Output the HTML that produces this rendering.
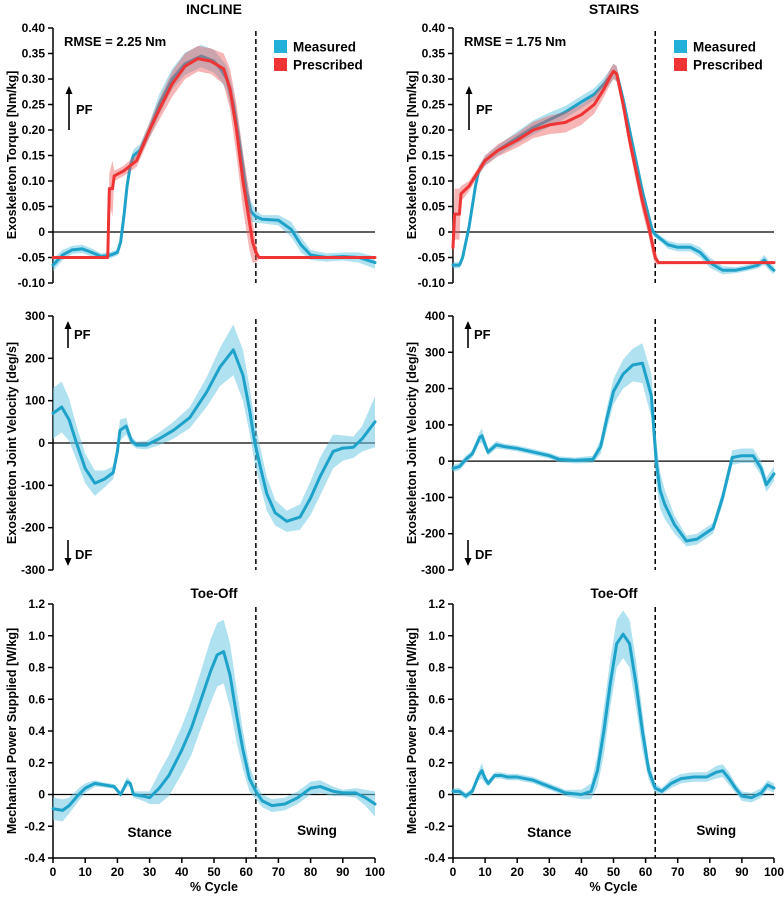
<!DOCTYPE html>
<html><head><meta charset="utf-8">
<style>
html,body{margin:0;padding:0;background:#fff;}
svg{display:block;font-family:"Liberation Sans",Arial,sans-serif;}
text{font-weight:bold;font-family:"Liberation Sans",Arial,sans-serif;}
</style></head>
<body>
<svg id="chart" width="784" height="897" viewBox="0 0 784 897" xmlns="http://www.w3.org/2000/svg"></svg>
<script>
// ---- data (pct, mean, sd) ----
const incTorqueMeasX=[0,3,6,9,12,15,18,20,21,22,23,24,25,27,30,33,37,41,46,50,52,54,56,58,60,61.5,63,65,70,74,77,80,85,90,95,100];
const incTorqueMeasY=[-0.065,-0.045,-0.035,-0.033,-0.04,-0.048,-0.045,-0.04,-0.02,0.03,0.09,0.13,0.15,0.16,0.2,0.25,0.3,0.33,0.345,0.335,0.32,0.3,0.25,0.17,0.08,0.04,0.03,0.025,0.023,0.005,-0.025,-0.045,-0.05,-0.048,-0.05,-0.06];
const incTorqueMeasSd=[0.012,0.01,0.008,0.008,0.008,0.006,0.006,0.006,0.01,0.015,0.015,0.012,0.012,0.012,0.015,0.02,0.02,0.022,0.022,0.022,0.022,0.025,0.028,0.03,0.03,0.02,0.012,0.008,0.01,0.015,0.015,0.01,0.008,0.008,0.01,0.012];
const incTorquePresX=[0,17,17.5,18.5,19,22,26,30,33,37,41,45,49,53,55,57,59,61,62,63,64,100];
const incTorquePresY=[-0.05,-0.05,0.085,0.085,0.11,0.12,0.14,0.2,0.24,0.29,0.325,0.34,0.335,0.32,0.28,0.2,0.1,0.02,-0.02,-0.04,-0.05,-0.05];
const incTorquePresSd=[0.002,0.002,0.03,0.055,0.01,0.01,0.012,0.015,0.02,0.025,0.025,0.025,0.025,0.03,0.04,0.05,0.055,0.055,0.04,0.02,0.003,0.002];

const staTorqueMeasX=[0,2,3,4,5,6,7,8,10,14,20,25,30,35,40,44,47,49,50,51,53,55,57,59,61,62,63,65,67,70,74,77,80,84,88,92,95,97,99,100];
const staTorqueMeasY=[-0.065,-0.065,-0.05,-0.02,0.01,0.05,0.09,0.12,0.14,0.16,0.185,0.205,0.22,0.235,0.255,0.27,0.29,0.305,0.315,0.31,0.26,0.2,0.14,0.08,0.03,0.005,-0.005,-0.015,-0.025,-0.03,-0.03,-0.04,-0.06,-0.075,-0.075,-0.07,-0.065,-0.055,-0.07,-0.075];
const staTorqueMeasSd=[0.006,0.006,0.006,0.006,0.006,0.006,0.008,0.01,0.01,0.01,0.012,0.014,0.014,0.012,0.012,0.012,0.012,0.014,0.015,0.015,0.014,0.012,0.012,0.012,0.01,0.008,0.006,0.006,0.008,0.008,0.008,0.01,0.01,0.008,0.006,0.006,0.006,0.01,0.008,0.008];
const staTorquePresX=[0,0.5,2,2.5,5,8,10,14,20,25,30,35,40,44,47,49,50,51,53,55,57,59,61,62,63,64,100];
const staTorquePresY=[-0.03,0.035,0.035,0.075,0.09,0.12,0.14,0.16,0.18,0.2,0.21,0.215,0.23,0.25,0.28,0.305,0.315,0.31,0.25,0.18,0.12,0.06,0.01,-0.02,-0.05,-0.06,-0.06];
const staTorquePresSd=[0.03,0.05,0.05,0.015,0.01,0.008,0.01,0.012,0.014,0.016,0.018,0.02,0.02,0.018,0.015,0.015,0.015,0.015,0.015,0.018,0.02,0.02,0.02,0.02,0.015,0.003,0.002];

const incVelX=[0,2.7,5,7.3,10,13,16,18.7,20,20.8,22.7,24.4,26,29,33,37.4,42.5,47.7,51.9,56,59,61,62.7,64.5,66.4,69,72.6,76.7,80,82.9,87,90,93.3,96,100];
const incVelY=[70,85,55,0,-60,-95,-85,-70,-20,30,40,5,-5,-5,10,30,60,120,180,220,160,80,0,-60,-120,-165,-185,-175,-130,-80,-20,-12,-10,10,50];
const incVelSd=[60,60,50,40,35,30,20,15,20,25,20,10,8,10,15,20,25,35,45,60,60,55,50,45,40,30,25,30,40,45,40,30,25,30,60];

const staVelX=[0,2,4,6,8.3,9,10.9,13.5,16,20,25,30,33,38,43.6,46,48,50,53,56,59,61.8,63.3,64.5,66,69,72.7,76,81,84,87,90,93.5,96,97.6,100];
const staVelY=[-20,-15,5,20,65,70,25,45,40,35,25,15,5,2,5,40,120,192,240,265,270,180,0,-80,-120,-175,-220,-215,-185,-100,10,15,15,-20,-65,-35];
const staVelSd=[10,10,10,10,15,20,10,10,8,8,8,8,8,8,10,20,30,35,40,45,55,60,60,50,40,25,15,15,15,20,20,20,20,20,20,20];

const incPowX=[0,3,5,8,10,13,16,19,21,23,24,25,28,30,33,36,40,43,46,49,51,53,55,57,59,61,63,65,68,72,76,80,83,87,90,94,97,100];
const incPowY=[-0.09,-0.1,-0.07,0,0.04,0.07,0.06,0.05,0.0,0.08,0.07,0,-0.01,-0.02,0.04,0.12,0.28,0.42,0.6,0.78,0.88,0.9,0.75,0.5,0.28,0.1,0.02,-0.04,-0.07,-0.06,-0.02,0.04,0.05,0.02,0.01,0.01,-0.02,-0.06];
const incPowSd=[0.07,0.07,0.05,0.04,0.03,0.02,0.015,0.015,0.015,0.03,0.02,0.02,0.03,0.04,0.1,0.13,0.15,0.17,0.18,0.2,0.2,0.2,0.2,0.17,0.12,0.08,0.05,0.04,0.04,0.04,0.04,0.04,0.04,0.03,0.02,0.03,0.05,0.08];

const staPowX=[0,2,4,6,8,9,10,11,13,15,17,20,25,30,35,40,43,45,47,49,51,53,55,57,59,61,63,65,68,71,75,79,82,84,86,88,90,93,96,98,100];
const staPowY=[0.02,0.02,-0.01,0.02,0.12,0.15,0.1,0.07,0.12,0.12,0.11,0.11,0.09,0.05,0.01,0,0.02,0.15,0.4,0.7,0.95,1.01,0.95,0.7,0.4,0.15,0.04,0.02,0.07,0.1,0.11,0.11,0.14,0.15,0.1,0.04,-0.01,-0.02,0.01,0.06,0.04];
const staPowSd=[0.02,0.02,0.02,0.02,0.03,0.05,0.03,0.02,0.02,0.02,0.02,0.02,0.02,0.02,0.02,0.03,0.05,0.1,0.15,0.15,0.15,0.15,0.15,0.15,0.12,0.06,0.03,0.02,0.03,0.03,0.03,0.03,0.04,0.04,0.04,0.03,0.03,0.03,0.03,0.03,0.03];

const torqueTicks=[0.40,0.35,0.30,0.25,0.20,0.15,0.10,0.05,0,-0.05,-0.10];
const torqueTickLabels=["0.40","0.35","0.30","0.25","0.20","0.15","0.10","0.05","0","-0.05","-0.10"];
const incVelTicks=[300,200,100,0,-100,-200,-300];
const staVelTicks=[400,300,200,100,0,-100,-200,-300];
const powTicks=[1.2,1.0,0.8,0.6,0.4,0.2,0,-0.2,-0.4];
const powTickLabels=["1.2","1.0","0.8","0.6","0.4","0.2","0","-0.2","-0.4"];
const xTicks=[0,10,20,30,40,50,60,70,80,90,100];
const toeOff=63;

const NS="http://www.w3.org/2000/svg";
const svg=document.getElementById('chart');
function el(tag,attrs,parent){const e=document.createElementNS(NS,tag);for(const k in attrs)e.setAttribute(k,attrs[k]);(parent||svg).appendChild(e);return e;}
function txt(s,attrs,parent){attrs['font-weight']='bold';const e=el('text',attrs,parent);e.textContent=s;return e;}

const BLUE="#1ea2c9",BLUEBAND="rgba(110,200,228,0.55)",RED="#ee3434",REDBAND="rgba(238,90,90,0.45)";

function panel(name,x0,x1,y0,y1,vmax,vmin,ticks,labels,ylabel,ylabelY){
  const g=el('g',{});
  
  
  const sx=p=>x0+(x1-x0)*p/100;
  const sy=v=>y0+(y1-y0)*(vmax-v)/(vmax-vmin);
  const ax=el('g',{},g);
  
  
  el('line',{x1:x0,y1:sy(vmax),x2:x0,y2:sy(vmin),stroke:'#000','stroke-width':1.5},ax);
  ticks.forEach((t,i)=>{
    el('line',{x1:x0-5,y1:sy(t),x2:x0,y2:sy(t),stroke:'#000','stroke-width':1.5},ax);
    const tl=txt(labels[i],{x:x0-8,y:sy(t)+4,'text-anchor':'end','font-size':12},ax);
    
    
  });
  const yl=txt(ylabel,{x:0,y:0,'text-anchor':'middle','font-size':12.5,transform:`translate(${x0-37},${ylabelY}) rotate(-90)`},g);
  
  
  const z=el('line',{x1:x0,y1:sy(0),x2:x1,y2:sy(0),stroke:'#000','stroke-width':1.3},g);
  
  
  const d=el('line',{x1:sx(toeOff),y1:sy(vmax)+3,x2:sx(toeOff),y2:sy(vmin),stroke:'#000','stroke-width':1.5,'stroke-dasharray':'5,3'},g);
  
  
  return {g,sx,sy};
}
function series(P,xs,ys,sd,line,band,name){
  let up=[],lo=[],m=[];
  xs.forEach((x,i)=>{up.push(P.sx(x)+','+P.sy(ys[i]+sd[i]));lo.push(P.sx(x)+','+P.sy(ys[i]-sd[i]));m.push(P.sx(x)+','+P.sy(ys[i]));});
  const b=el('polygon',{points:up.concat(lo.reverse()).join(' '),fill:band,stroke:'none'},P.g);
  
  
  const l=el('polyline',{points:m.join(' '),fill:'none',stroke:line,'stroke-width':3,'stroke-linejoin':'round','stroke-linecap':'round'},P.g);
  
  
}
function xaxis(P,x0,x1,y){
  const g=el('g',{},P.g);
  
  
  el('line',{x1:x0,y1:y,x2:x1,y2:y,stroke:'#000','stroke-width':1.5},g);
  xTicks.forEach(t=>{
    el('line',{x1:P.sx(t),y1:y,x2:P.sx(t),y2:y+5,stroke:'#000','stroke-width':1.5},g);
    const tl=txt(String(t),{x:P.sx(t),y:y+18,'text-anchor':'middle','font-size':12},g);
    
    
  });
  const t=txt('% Cycle',{x:(x0+x1)/2,y:y+33,'text-anchor':'middle','font-size':12.5},g);
  
  
}
function arrow(x,yFrom,yTo,name){
  const a=el('g',{});
  
  
  el('line',{x1:x,y1:yFrom,x2:x,y2:yTo+(yTo<yFrom?5:-5),stroke:'#000','stroke-width':1.6},a);
  const s=yTo<yFrom?1:-1;
  el('polygon',{points:`${x},${yTo} ${x-3.5},${yTo+8*s} ${x+3.5},${yTo+8*s}`,fill:'#000'},a);
}
function legend(x,y){
  const g=el('g',{});
  
  
  const e1=el('g',{},g);
  el('rect',{x:x,y:y,width:13,height:13,fill:'#22b0d8'},e1);
  txt('Measured',{x:x+19,y:y+11.5,'font-size':13.5},e1);
  const e2=el('g',{},g);
  el('rect',{x:x,y:y+18,width:13,height:13,fill:'#ee3434'},e2);
  txt('Prescribed',{x:x+19,y:y+29.5,'font-size':13.5},e2);
}
function label(s,x,y,name,size,anchor){const t=txt(s,{x:x,y:y,'font-size':size||12,'text-anchor':anchor||'start'});return t;}

const cols=[{x0:53,x1:375,c:214},{x0:453,x1:774,c:614}];
label('INCLINE',214,14,'incline-title',14,'middle');
label('STAIRS',614,14,'stairs-title',14,'middle');

[[incTorqueMeasX,incTorqueMeasY,incTorqueMeasSd,incTorquePresX,incTorquePresY,incTorquePresSd,'RMSE = 2.25 Nm'],
 [staTorqueMeasX,staTorqueMeasY,staTorqueMeasSd,staTorquePresX,staTorquePresY,staTorquePresSd,'RMSE = 1.75 Nm']].forEach((d,i)=>{
  const c=cols[i];
  const P=panel(i?'stairs-torque-panel':'incline-torque-panel',c.x0,c.x1,28,283,0.40,-0.10,torqueTicks,torqueTickLabels,'Exoskeleton Torque [Nm/kg]',155);
  series(P,d[0],d[1],d[2],BLUE,BLUEBAND,'measured-torque');
  series(P,d[3],d[4],d[5],RED,REDBAND,'prescribed-torque');
  label(d[6],c.x0+11,46,'rmse-label',13);
  legend(c.x0+221,40);
  arrow(c.x0+16,130,86,'pf-arrow');
  label('PF',c.x0+23,114,'pf-label',13);
});
[[incVelX,incVelY,incVelSd,300,incVelTicks],[staVelX,staVelY,staVelSd,400,staVelTicks]].forEach((d,i)=>{
  const c=cols[i];
  const P=panel(i?'stairs-velocity-panel':'incline-velocity-panel',c.x0,c.x1,316,570,d[3],-300,d[4],d[4].map(String),'Exoskeleton Joint Velocity [deg/s]',443);
  series(P,d[0],d[1],d[2],BLUE,BLUEBAND,'velocity');
  arrow(c.x0+15,348,321,'pf-arrow');
  label('PF',c.x0+21,339,'pf-label',13);
  arrow(c.x0+15,540,566,'df-arrow');
  label('DF',c.x0+22,559,'df-label',13);
});
[[incPowX,incPowY,incPowSd],[staPowX,staPowY,staPowSd]].forEach((d,i)=>{
  const c=cols[i];
  label('Toe-Off',c.c,598,'toe-off-label',13.5,'middle');
  const P=panel(i?'stairs-power-panel':'incline-power-panel',c.x0,c.x1,604,858,1.2,-0.4,powTicks,powTickLabels,'Mechanical Power Supplied  [W/kg]',731);
  series(P,d[0],d[1],d[2],BLUE,BLUEBAND,'power');
  xaxis(P,c.x0,c.x1,858);
  label('Stance',P.sx(30),837,'stance-label',13.5,'middle');
  label('Swing',P.sx(82),835,'swing-label',13.5,'middle');
});
</script>
</body></html>
